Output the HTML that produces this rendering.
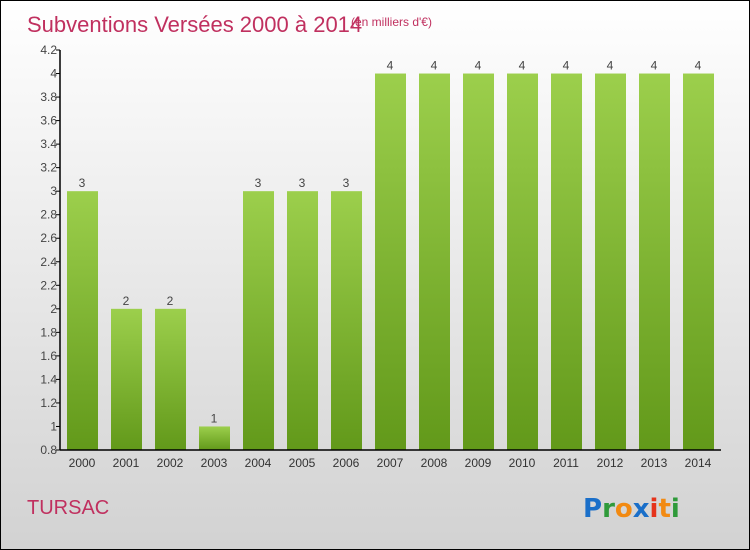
<!DOCTYPE html>
<html><head><meta charset="utf-8"><style>
body{margin:0;}
#wrap{position:relative;width:748px;height:548px;border:1px solid #000;background:linear-gradient(#ffffff,#d2d2d2);font-family:"Liberation Sans",sans-serif;overflow:hidden;}
</style></head><body>
<div id="wrap">
<svg width="748" height="548" id="svg">
<defs><linearGradient id="bg" x1="0" y1="0" x2="0" y2="1"><stop offset="0" stop-color="#9ccf4c"/><stop offset="1" stop-color="#62991a"/></linearGradient></defs>
<text x="26" y="31" font-size="22" fill="#c0305f">Subventions Versées 2000 à 2014</text>
<text x="350" y="25" font-size="12" fill="#c0305f">(en milliers d'€)</text>
<text x="26" y="513" font-size="20" fill="#c0305f">TURSAC</text>
<g font-size="26" font-family="DejaVu Sans,sans-serif" font-weight="bold">
<text x="582" y="516"><tspan fill="#1a6fc9">P</tspan><tspan fill="#2f9a3a">r</tspan><tspan fill="#f28a12">o</tspan><tspan fill="#1a6fc9">x</tspan><tspan fill="#e5331b">i</tspan><tspan fill="#f28a12">t</tspan><tspan fill="#2f9a3a">i</tspan></text></g>
<g id="plot"></g>
</svg>
</div>
<script>
const categories=["2000","2001","2002","2003","2004","2005","2006","2007","2008","2009","2010","2011","2012","2013","2014"];
const values=[3,2,2,1,3,3,3,4,4,4,4,4,4,4,4];
const ticks=[0.8,1,1.2,1.4,1.6,1.8,2,2.2,2.4,2.6,2.8,3,3.2,3.4,3.6,3.8,4,4.2];
const NS="http://www.w3.org/2000/svg";
const g=document.getElementById('plot');
const y0=449,y1=49,vmin=0.8,vmax=4.2,ax=59;
const y=v=>y0-(v-vmin)/(vmax-vmin)*(y0-y1);
const x=i=>81+i*44;
function mk(t,a){const e=document.createElementNS(NS,t);for(const k in a)e.setAttribute(k,a[k]);g.appendChild(e);return e;}
categories.forEach((c,i)=>{
const r=mk('rect',{x:x(i)-15,y:y(values[i]),width:31,height:y0-y(values[i]),fill:'url(#bg)'});


const t=mk('text',{x:x(i),y:y(values[i])-4,'text-anchor':'middle','font-size':12,fill:'#444'});
t.textContent=values[i];


const l=mk('text',{x:x(i),y:y0+17,'text-anchor':'middle','font-size':12,fill:'#333'});
l.textContent=c;


});
ticks.forEach(v=>{
const tk=mk('line',{x1:ax-4,x2:ax,y1:y(v),y2:y(v),stroke:'#000'});


const t=mk('text',{x:ax-3,y:y(v)+4,'text-anchor':'end','font-size':12,fill:'#444'});
t.textContent=v;


});
const ya=mk('line',{x1:ax,x2:ax,y1:y1,y2:y0,stroke:'#000','stroke-width':1.5});


const xa=mk('line',{x1:ax,x2:720,y1:y0,y2:y0,stroke:'#000','stroke-width':1.5});


</script>
</body></html>
